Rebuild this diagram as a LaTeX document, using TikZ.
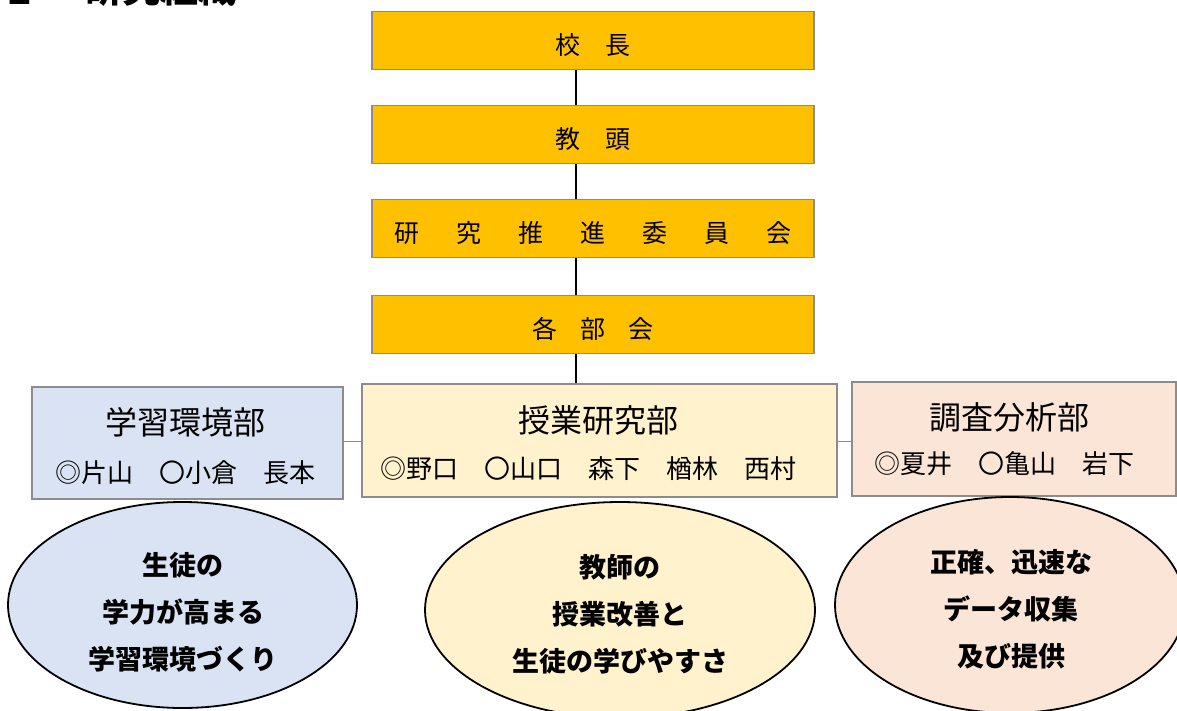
\documentclass[tikz,border=0pt]{standalone}
\usepackage{fontspec}
\setmainfont{Noto Sans CJK JP}
\usetikzlibrary{shapes.geometric}
\definecolor{gold}{HTML}{FFC000}
\definecolor{bordergray}{HTML}{8C8C8C}
\definecolor{lblue}{HTML}{DAE3F3}
\definecolor{lyellow}{HTML}{FFF2CC}
\definecolor{lpeach}{HTML}{FBE5D6}
\tikzset{
  topbox/.style={draw=bordergray, line width=1.5pt, fill=gold, minimum width=442pt, minimum height=58pt, inner sep=0pt, font=\fontsize{25}{30}\selectfont, text height=28pt, text depth=0pt},
  deptbox/.style={draw=bordergray, line width=1.5pt, inner sep=0pt},
  depttitle/.style={inner sep=0pt, font=\fontsize{32}{36}\selectfont},
  deptnames/.style={inner sep=0pt, font=\fontsize{26}{30}\selectfont},
  oval/.style={ellipse, draw=black, line width=1.8pt, inner sep=0pt},
  ovaltext/.style={inner sep=0pt, align=center, font=\bfseries\fontsize{27}{47}\selectfont},
  connector/.style={line width=1.5pt, black},
  sideline/.style={line width=1pt, bordergray},
  heading/.style={inner sep=0pt, anchor=base, font=\bfseries\fontsize{38}{40}\selectfont}
}
\begin{document}
\begin{tikzpicture}[x=1pt,y=-1pt]
\clip (0,0) rectangle (1177,711);
\fill[white] (0,0) rectangle (1177,711);
% heading (cut off at the top, as in the reference)
\node[heading] (num) at (20,5) {2};
\node[heading] (ttl) at (160,3) {研究組織};
% helper coordinates
\coordinate (vx) at (576,0);
\coordinate (hy) at (0,441);
% top chain
\node[topbox] (kocho) at (593,40.5) {校\hspace{25pt}長};
\node[topbox] (kyoto) at (593,134.5) {教\hspace{25pt}頭};
\node[topbox] (suishin) at (593,228.5) {研\hspace{37pt}究\hspace{37pt}推\hspace{37pt}進\hspace{37pt}委\hspace{37pt}員\hspace{37pt}会};
\node[topbox] (kakubu) at (593,324.5) {各\hspace{23pt}部\hspace{23pt}会};
% departments
\node[deptbox, fill=lblue, minimum width=311pt, minimum height=112pt] (gak) at (187.5,443) {};
\node[depttitle] (gakT) at (185.5,422) {学習環境部};
\node[deptnames] (gakN) at (185,473) {◎片山　〇小倉　長本};
\node[deptbox, fill=lyellow, minimum width=475pt, minimum height=113pt] (jug) at (599.5,440.5) {};
\node[depttitle] (jugT) at (598.5,420) {授業研究部};
\node[deptnames] (jugN) at (588.5,469) {◎野口　〇山口　森下　楢林　西村};
\node[deptbox, fill=lpeach, minimum width=324pt, minimum height=114pt] (cho) at (1014,439) {};
\node[depttitle] (choT) at (1009,417) {調査分析部};
\node[deptnames] (choN) at (1004,464) {◎夏井　〇亀山　岩下};
% connectors
\draw[connector] (kocho.south -| vx) -- (kyoto.north -| vx);
\draw[connector] (kyoto.south -| vx) -- (suishin.north -| vx);
\draw[connector] (suishin.south -| vx) -- (kakubu.north -| vx);
\draw[connector] (kakubu.south -| vx) -- (jug.north -| vx);
\draw[sideline] (gak.east |- hy) -- (jug.west |- hy);
\draw[sideline] (jug.east |- hy) -- (cho.west |- hy);
% ellipses
\node[oval, fill=lblue, minimum width=349pt, minimum height=206pt] (e1) at (182.5,605) {};
\node[ovaltext] (e1t) at (183,612) {生徒の\\学力が高まる\\学習環境づくり};
\node[oval, fill=lyellow, minimum width=390pt, minimum height=216pt] (e2) at (620,610) {};
\node[ovaltext] (e2t) at (620,614) {教師の\\授業改善と\\生徒の学びやすさ};
\node[oval, fill=lpeach, minimum width=350pt, minimum height=216pt] (e3) at (1010,605) {};
\node[ovaltext] (e3t) at (1011,609) {正確、迅速な\\データ収集\\及び提供};
\end{tikzpicture}
\end{document}
